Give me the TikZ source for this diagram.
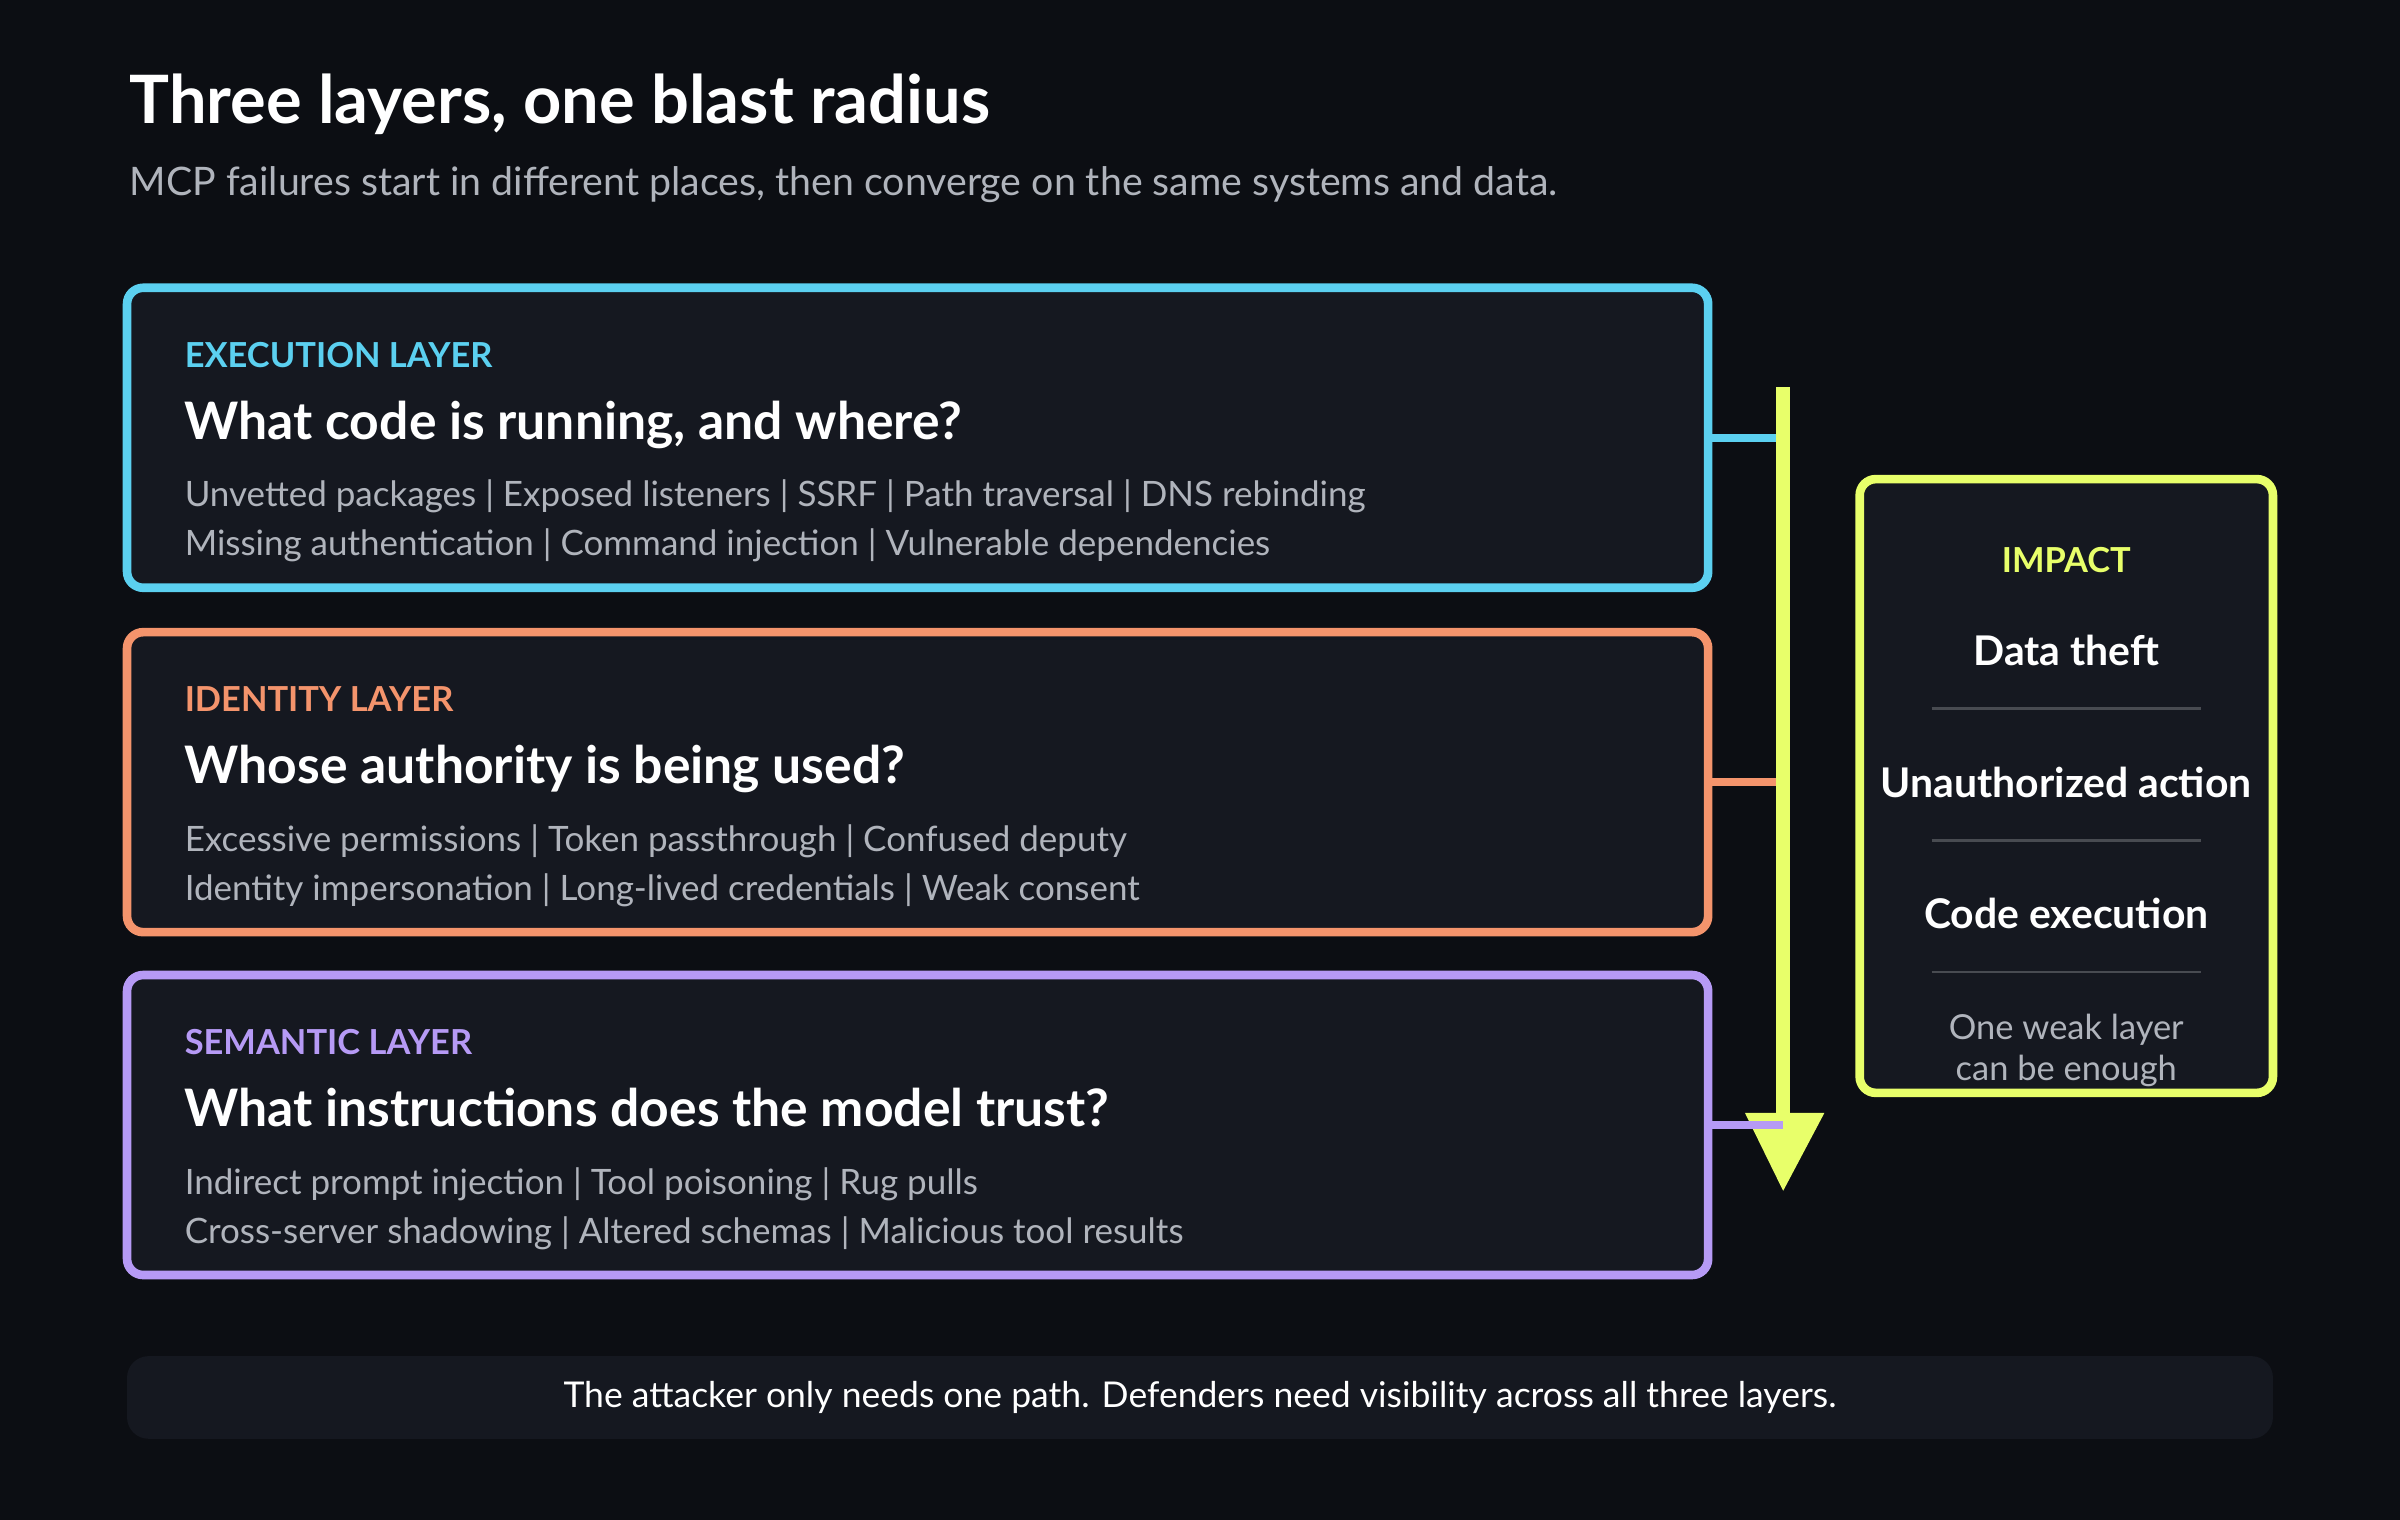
\documentclass[tikz,border=0pt]{standalone}
\usepackage{fontspec}
\setmainfont{Lato}
\usetikzlibrary{positioning, arrows.meta}
\definecolor{bgcol}{HTML}{0C0E13}
\definecolor{boxcol}{HTML}{151820}
\definecolor{execcol}{HTML}{5BD0F0}
\definecolor{identcol}{HTML}{F4946C}
\definecolor{semcol}{HTML}{B69AF5}
\definecolor{impcol}{HTML}{E8FF6A}
\definecolor{greytext}{HTML}{B0B4BC}
\tikzset{
    layer/.style={draw=#1, line width=1.6pt, rounded corners=3pt, fill=boxcol},
    tag/.style={anchor=base west, inner sep=0pt, text=#1, font=\fontsize{6.4}{7}\selectfont\bfseries},
    question/.style={anchor=base west, inner sep=0pt, text=white, font=\fontsize{9.6}{11}\selectfont\bfseries},
    items/.style={anchor=north west, inner sep=0pt, text=greytext, font=\fontsize{6.5}{9.1}\selectfont, align=left},
    impact/.style={text=white, font=\fontsize{7.6}{9}\selectfont\bfseries},
    link/.style={draw=#1, line width=1.4pt},
}
\tikzstyle{sep} = [draw=white!22!boxcol, line width=0.5pt]
\begin{document}
\begin{tikzpicture}[x=0.01cm, y=-0.01cm]

    % Fond
    \fill[bgcol] (0,0) rectangle (1568,993);

    % Titre
    \node (title) [anchor=base west, inner sep=0pt, text=white, font=\fontsize{12.4}{14}\selectfont\bfseries] at (84,81) {Three layers, one blast radius};
    \node (subtitle) [anchor=base west, inner sep=0pt, text=greytext, font=\fontsize{7.3}{9}\selectfont] at (84,128) {MCP failures start in different places, then converge on the same systems and data.};

    % Couches
    \draw [layer=execcol] (83,188) rectangle (1116,384);
    \node (execTag) [tag=execcol] at (120,240) {EXECUTION LAYER};
    \node (execQ) [question] at (120,287) {What code is running, and where?};
    \node (execItems) [items] at (120,313) {Unvetted packages | Exposed listeners | SSRF | Path traversal | DNS rebinding\\Missing authentication | Command injection | Vulnerable dependencies};

    \draw [layer=identcol] (83,413) rectangle (1116,609);
    \node (identTag) [tag=identcol] at (120,465) {IDENTITY LAYER};
    \node (identQ) [question] at (120,512) {Whose authority is being used?};
    \node (identItems) [items] at (120,538) {Excessive permissions | Token passthrough | Confused deputy\\Identity impersonation | Long-lived credentials | Weak consent};

    \draw [layer=semcol] (83,637) rectangle (1116,833);
    \node (semTag) [tag=semcol] at (120,689) {SEMANTIC LAYER};
    \node (semQ) [question] at (120,736) {What instructions does the model trust?};
    \node (semItems) [items] at (120,762) {Indirect prompt injection | Tool poisoning | Rug pulls\\Cross-server shadowing | Altered schemas | Malicious tool results};

    % Freccia di convergenza
    \coordinate (top) at (1165,253);
    \coordinate (tip) at (1165,778);
    \draw [link=execcol] (1116,286) -- (1165,286);
    \draw [link=identcol] (1116,511) -- (1165,511);
    \draw [impcol, line width=2.6pt] (top) -- (1165,730);
    \fill [impcol] (1140,727) -- (1192,727) -- (tip) -- cycle;
    \draw [link=semcol] (1116,735) -- (1165,735);

    % Impatto
    \draw [layer=impcol] (1215,313) rectangle (1485,714);
    \node (impTag) [text=impcol, font=\fontsize{6.4}{7}\selectfont\bfseries] at (1350,366) {IMPACT};
    \node (theft) [impact] at (1350,425) {Data theft};
    \node (action) [impact] at (1350,511) {Unauthorized action};
    \node (exec) [impact] at (1350,597) {Code execution};
    \node (note) [text=greytext, align=center, font=\fontsize{6.4}{7.6}\selectfont] at (1350,686) {One weak layer\\can be enough};
    \draw [sep] (1262,463) -- (1438,463);
    \draw [sep] (1262,549) -- (1438,549);
    \draw [sep] (1262,635) -- (1438,635);

    % Nota finale
    \fill [boxcol, rounded corners=4pt] (83,886) rectangle (1485,940);
    \node (footer) [text=white, font=\fontsize{6.6}{8}\selectfont] at (784,913) {The attacker only needs one path. Defenders need visibility across all three layers.};

\end{tikzpicture}
\end{document}
